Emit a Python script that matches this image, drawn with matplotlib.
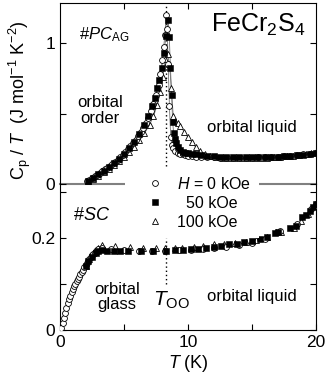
import matplotlib
matplotlib.use("Agg")
import matplotlib.pyplot as plt
from matplotlib.lines import Line2D

plt.rcParams['font.family'] = ['Liberation Sans', 'DejaVu Sans']
plt.rcParams['mathtext.fontset'] = 'custom'
plt.rcParams['mathtext.rm'] = 'Liberation Sans'
plt.rcParams['mathtext.it'] = 'Liberation Sans:italic'

# ---------------- top panel: #PC_AG ----------------
top_T_h0 = [2.1, 2.3, 2.5, 2.7, 2.9, 3.1, 3.3, 3.5, 3.7, 3.9, 4.1, 4.3, 4.5, 4.7, 4.9,
            5.1, 5.3, 5.5, 5.7, 5.9, 6.1, 6.3, 6.5, 6.7, 6.9, 7.1, 7.3, 7.5, 7.7, 7.85,
            8.0, 8.1, 8.2, 8.3, 8.38, 8.45, 8.55, 8.65, 8.75, 8.85, 9.0, 9.2, 9.4, 9.6,
            9.8, 10.0, 10.3, 10.6, 11.0, 11.5, 12.0, 12.5, 13.0, 13.5, 14.0, 14.5, 15.0,
            15.5, 16.0, 16.5, 17.0, 17.5, 18.0, 18.5, 19.0, 19.5, 20.0]
top_C_h0 = [0.018, 0.03, 0.042, 0.055, 0.067, 0.08, 0.092, 0.104, 0.116, 0.128, 0.142,
            0.157, 0.172, 0.19, 0.207, 0.228, 0.248, 0.268, 0.29, 0.315, 0.34, 0.368,
            0.40, 0.43, 0.47, 0.52, 0.57, 0.63, 0.70, 0.78, 0.88, 0.97, 1.06, 1.2, 1.1,
            0.85, 0.55, 0.33, 0.28, 0.255, 0.235, 0.222, 0.215, 0.21, 0.205, 0.2, 0.197,
            0.195, 0.193, 0.19, 0.188, 0.186, 0.185, 0.185, 0.185, 0.186, 0.187, 0.188,
            0.19, 0.192, 0.195, 0.198, 0.2, 0.205, 0.21, 0.215, 0.222]

top_T_h50 = [2.2, 2.6, 3.0, 3.4, 3.8, 4.2, 4.6, 5.0, 5.4, 5.8, 6.2, 6.6, 6.9, 7.2, 7.4,
             7.6, 7.76, 7.94, 8.1, 8.3, 8.46, 8.54, 8.63, 8.72, 8.8, 8.88, 8.95, 9.05,
             9.2, 9.4, 9.6, 9.8, 10.0, 10.3, 10.6, 11.0, 11.5, 12.0, 12.5, 13.0, 13.5,
             14.0, 14.5, 15.0, 15.5, 16.0, 16.5, 17.0, 17.5, 18.0, 18.5, 19.0, 19.5, 20.0]
top_C_h50 = [0.02, 0.045, 0.07, 0.095, 0.12, 0.148, 0.18, 0.215, 0.255, 0.30, 0.355,
             0.42, 0.48, 0.55, 0.61, 0.68, 0.74, 0.82, 0.93, 1.05, 1.16, 1.04, 0.82,
             0.63, 0.44, 0.36, 0.32, 0.29, 0.26, 0.24, 0.228, 0.222, 0.218, 0.212, 0.21,
             0.205, 0.2, 0.197, 0.195, 0.193, 0.19, 0.19, 0.19, 0.19, 0.19, 0.192, 0.193,
             0.195, 0.197, 0.2, 0.203, 0.207, 0.212, 0.22]

top_T_h100 = [2.2, 2.6, 3.0, 3.4, 3.8, 4.2, 4.6, 5.0, 5.4, 5.8, 6.2, 6.6, 7.0, 7.3, 7.6,
              7.85, 8.05, 8.2, 8.4, 8.55, 8.7, 8.85, 9.0, 9.2, 9.4, 9.7, 10.0, 10.3,
              10.6, 10.9, 11.3, 11.7, 12.2, 12.7, 13.2, 13.7, 14.2, 14.7, 15.2, 15.7,
              16.2, 16.7, 17.2, 17.7, 18.2, 18.7, 19.2, 19.6, 20.0]
top_C_h100 = [0.018, 0.038, 0.06, 0.083, 0.107, 0.133, 0.16, 0.19, 0.225, 0.265, 0.31,
              0.36, 0.42, 0.48, 0.56, 0.65, 0.76, 0.89, 0.92, 0.85, 0.68, 0.48, 0.45,
              0.43, 0.41, 0.37, 0.33, 0.3, 0.26, 0.235, 0.215, 0.2, 0.19, 0.185, 0.183,
              0.182, 0.182, 0.183, 0.184, 0.185, 0.187, 0.19, 0.193, 0.197, 0.2, 0.205,
              0.21, 0.218, 0.225]

# ---------------- bottom panel: #SC ----------------
bot_T_h0 = [0.1, 0.2, 0.3, 0.4, 0.5, 0.6, 0.7, 0.8, 0.9, 1.0, 1.1, 1.2, 1.3, 1.4, 1.5,
            1.6, 1.7, 1.8, 1.9, 2.0, 2.1, 2.2, 2.3, 2.4, 2.5, 2.6, 2.7, 2.8, 2.9, 3.0,
            3.3, 4.0, 5.0, 6.2, 7.2, 8.2, 9.3, 10.2, 11.2, 12.0, 13.0, 14.0, 15.0, 16.0,
            17.2, 18.5, 19.6, 20.0]
bot_C_h0 = [0.005, 0.015, 0.026, 0.037, 0.048, 0.058, 0.067, 0.075, 0.083, 0.09, 0.096,
            0.101, 0.106, 0.111, 0.116, 0.121, 0.126, 0.131, 0.136, 0.141, 0.146, 0.15,
            0.154, 0.158, 0.162, 0.165, 0.168, 0.171, 0.174, 0.176, 0.178, 0.176, 0.174,
            0.172, 0.172, 0.172, 0.173, 0.174, 0.176, 0.178, 0.181, 0.185, 0.19, 0.197,
            0.215, 0.23, 0.262, 0.275]

bot_T_h50 = [2.0, 2.2, 2.5, 2.8, 3.0, 3.3, 3.7, 4.2, 4.7, 5.3, 6.3, 7.3, 8.3, 9.0, 9.6,
             10.2, 10.8, 11.4, 12.0, 12.6, 13.2, 13.8, 14.4, 15.0, 15.6, 16.2, 16.8,
             17.0, 18.0, 18.4, 18.9, 19.2, 19.5, 19.8, 20.0]
bot_C_h50 = [0.14, 0.15, 0.158, 0.168, 0.172, 0.174, 0.172, 0.172, 0.172, 0.172, 0.171,
             0.171, 0.172, 0.173, 0.174, 0.176, 0.177, 0.179, 0.181, 0.183, 0.186, 0.188,
             0.191, 0.194, 0.198, 0.203, 0.21, 0.213, 0.222, 0.226, 0.245, 0.25, 0.258,
             0.268, 0.275]

bot_T_h100 = [2.0, 2.3, 2.6, 3.0, 3.3, 4.3, 5.5, 6.5, 7.5, 8.2, 9.0, 9.5, 10.5, 11.2,
              12.0, 12.8, 13.7, 14.5, 15.3, 16.2, 16.9, 17.3, 18.3, 18.8, 19.4, 20.0]
bot_C_h100 = [0.14, 0.155, 0.168, 0.178, 0.185, 0.183, 0.18, 0.178, 0.179, 0.178, 0.178,
              0.179, 0.181, 0.183, 0.186, 0.188, 0.19, 0.192, 0.196, 0.203, 0.212, 0.214,
              0.222, 0.236, 0.252, 0.27]

legend_labels = ['$H$ = 0 kOe', '  50 kOe', '100 kOe']
T_OO = 8.3

W, H = 327, 381
fig = plt.figure(figsize=(W / 100, H / 100), dpi=100)
L, R = 60 / W, 316 / W
ax_bot = fig.add_axes([L, 1 - 330 / H, R - L, (330 - 184) / H])
ax_top = fig.add_axes([L, 1 - 184 / H, R - L, (184 - 3) / H])
ax_top.patch.set_visible(False)

mk = dict(linestyle='none', mfc='white', mec='black', mew=0.6)

# top panel
ax_top.plot(top_T_h0, top_C_h0, color='0.45', lw=0.6, zorder=2)
ax_top.plot(top_T_h50, top_C_h50, color='0.45', lw=0.6, zorder=2)
ax_top.plot(top_T_h100, top_C_h100, color='0.45', lw=0.6, zorder=2)
ax_top.plot(top_T_h100, top_C_h100, marker='^', ms=4.6, zorder=3, **mk)
ax_top.plot(top_T_h0, top_C_h0, marker='o', ms=4.2, zorder=4, **mk)
ax_top.plot(top_T_h50, top_C_h50, marker='s', ms=3.8, linestyle='none',
            color='black', mew=0.4, zorder=5)
ax_top.plot([T_OO, T_OO], [0.13, 1.3], linestyle=(0, (1, 2)), color='black', lw=1.0)

ax_top.set_xlim(0, 20)
ax_top.set_ylim(0, (184 - 3) / 141)
ax_top.spines['bottom'].set_visible(False)
ax_top.set_yticks([0, 0.5, 1])
ax_top.set_yticklabels(['0', '', '1'])
ax_top.set_xticks([5, 10, 15])
ax_top.tick_params(axis='x', which='both', bottom=False, labelbottom=False, top=True,
                   direction='in', length=4)
ax_top.tick_params(axis='y', direction='in', right=True, length=4, labelsize=12.5)

ax_top.text(15.5, 1.13, r'FeCr$_2$S$_4$', fontsize=18, ha='center', va='center')
ax_top.text(1.5, 1.06, r'#$PC_{\rm AG}$', fontsize=12, ha='left', va='center')
ax_top.text(3.1, 0.52, 'orbital\norder', fontsize=12, ha='center', va='center',
            linespacing=1.05)
ax_top.text(15.0, 0.40, 'orbital liquid', fontsize=12, ha='center', va='center')

# bottom panel
ax_bot.plot(bot_T_h100, bot_C_h100, marker='^', ms=4.6, zorder=3, **mk)
ax_bot.plot(bot_T_h0, bot_C_h0, marker='o', ms=4.2, zorder=4, **mk)
ax_bot.plot(bot_T_h50, bot_C_h50, marker='s', ms=3.8, linestyle='none',
            color='black', mew=0.4, zorder=5)
ax_bot.plot([T_OO, T_OO], [0.1, 0.2], linestyle=(0, (1, 2)), color='black', lw=1.0)

ax_bot.set_xlim(0, 20)
ax_bot.set_ylim(0, (330 - 184) / 460)
ax_bot.set_xticks([0, 5, 10, 15, 20])
ax_bot.set_xticklabels(['0', '', '10', '', '20'])
ax_bot.set_yticks([0, 0.1, 0.2, 0.3])
ax_bot.set_yticklabels(['0', '', '0.2', ''])
ax_bot.tick_params(direction='in', right=True, length=4, labelsize=12.5)
ax_bot.spines['top'].set_color('0.5')
ax_bot.spines['top'].set_linewidth(1.5)
ax_bot.set_xlabel('$T$ (K)', fontsize=13, labelpad=2)

ax_bot.text(1.0, 0.25, r'#$SC$', fontsize=13, ha='left', va='center')
ax_bot.text(4.45, 0.072, 'orbital\nglass', fontsize=12, ha='center', va='center',
            linespacing=1.05)
ax_bot.text(7.3, 0.064, r'$T_{\rm OO}$', fontsize=15, ha='left', va='center')
ax_bot.text(15.0, 0.072, 'orbital liquid', fontsize=12, ha='center', va='center')

handles = [Line2D([], [], marker='o', ms=4.2, **mk),
           Line2D([], [], marker='s', ms=3.8, linestyle='none', color='black', mew=0.4),
           Line2D([], [], marker='^', ms=4.6, **mk)]
leg = ax_bot.legend(handles, legend_labels, loc='upper left',
                    bbox_to_anchor=(125 / W, 1 - 168 / H), bbox_transform=fig.transFigure,
                    fontsize=11.5, frameon=True, fancybox=False, framealpha=1,
                    edgecolor='none', facecolor='white', borderpad=0.5, labelspacing=0.25,
                    handlelength=2.75, handletextpad=0.0, borderaxespad=0)
leg.set_zorder(10)

fig.text(20 / W, 1 - 100 / H, r'C$_{\rm p}$ / $T$  (J mol$^{-1}$ K$^{-2}$)',
         rotation=90, fontsize=13, ha='center', va='center')

fig.savefig('out.png', dpi=100)
